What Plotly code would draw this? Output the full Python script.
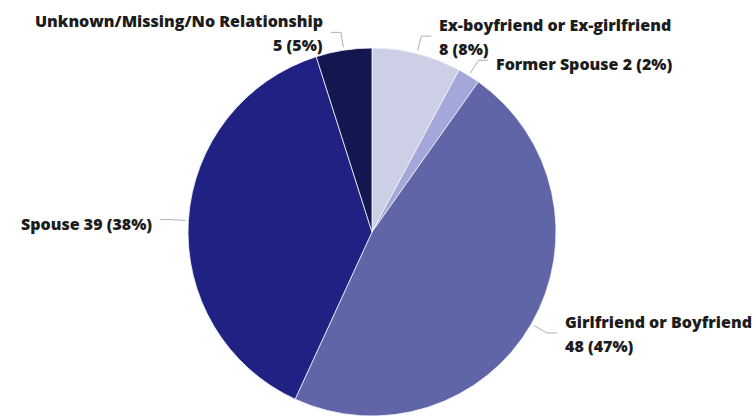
import math
import plotly.graph_objects as go

# Relationship of victim to offender
labels = [
    "Ex-boyfriend or Ex-girlfriend",
    "Former Spouse",
    "Girlfriend or Boyfriend",
    "Spouse",
    "Unknown/Missing/No Relationship",
]
values = [8, 2, 48, 39, 5]
colors = ["#cdcfe6", "#a3a7d9", "#6065a8", "#1f2282", "#13164f"]
# whether the name and the count sit on separate lines
two_line = [True, False, True, False, True]

W, H = 753, 416
CX, CY, R = 372, 232, 184  # pie centre / radius in pixels (from top-left)

fig = go.Figure(
    go.Pie(
        labels=labels,
        values=values,
        sort=False,
        direction="clockwise",
        rotation=0,
        marker=dict(colors=colors, line=dict(color="#f4f4fa", width=0.8)),
        textinfo="none",
        hoverinfo="label+value+percent",
        showlegend=False,
        domain=dict(
            x=[(CX - R) / W, (CX + R) / W],
            y=[(H - CY - R) / H, (H - CY + R) / H],
        ),
    )
)


def px(x):
    return x / W


def py(y):
    return 1 - y / H


total = sum(values)
font = dict(family="Open Sans", size=16, color="#1c1c1c", weight=800)
line_style = dict(color="#b0b0b0", width=1)
shapes, annotations = [], []
cum = 0
for lab, v, two in zip(labels, values, two_line):
    mid = (cum + v / 2) / total * 2 * math.pi
    cum += v
    sx, sy = math.sin(mid), -math.cos(mid)
    x1, y1 = CX + (R + 3) * sx, CY + (R + 3) * sy
    x2, y2 = CX + (R + 18) * sx, CY + (R + 18) * sy
    side = 1 if sx >= 0 else -1
    x3 = x2 + 10 * side
    shapes.append(dict(type="path", xref="paper", yref="paper",
                       path=f"M {px(x1)},{py(y1)} L {px(x2)},{py(y2)} L {px(x3)},{py(y2)}",
                       line=line_style))
    pct = round(v / total * 100)
    tx = x3 + 6 * side
    anchor = "left" if side > 0 else "right"
    count = f"{v} ({pct}%)"
    if two:
        lines = [(lab, y2 - 11), (count, y2 + 13)]
    else:
        lines = [(f"{lab} {count}", y2 + 4)]
    for txt, ty in lines:
        annotations.append(dict(x=px(tx), y=py(ty), xref="paper", yref="paper",
                                text=txt, showarrow=False, xanchor=anchor,
                                yanchor="middle", align=anchor, font=font))

fig.update_layout(
    width=W, height=H,
    margin=dict(l=0, r=0, t=0, b=0),
    paper_bgcolor="white", plot_bgcolor="white",
    shapes=shapes, annotations=annotations,
)
fig.write_html("out.html")
